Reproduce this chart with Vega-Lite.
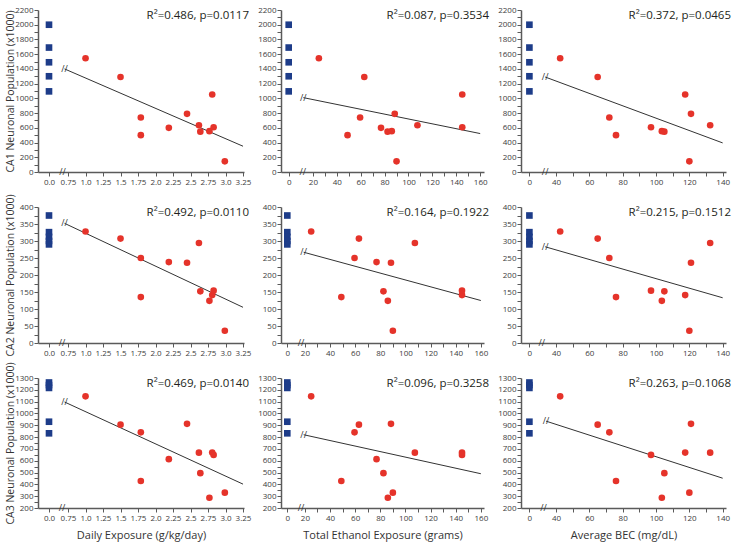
{
"$schema": "https://vega.github.io/schema/vega-lite/v6.json",
"background": "white",
"padding": {"left": 4, "top": 6, "right": 5, "bottom": 2},
"config": {
 "font": "Open Sans",
 "view": {"stroke": null},
 "axis": {"grid": false, "domainColor": "#5a5a5a", "domainWidth": 1.5, "tickColor": "#5a5a5a", "tickWidth": 1, "tickSize": 4, "labelFont": "Open Sans", "labelFontSize": 8, "labelColor": "#3c3c3c", "labelPadding": 1, "labelOverlap": false, "labelFlush": false, "titleFont": "Open Sans", "titleFontSize": 10.5, "titleFontWeight": "normal", "titleColor": "#333333", "titlePadding": 1},
 "axisX": {"labelPadding": 2, "titlePadding": 7, "titleFontSize": 11},
 "axisY": {"minExtent": 22, "maxExtent": 22}
},
"datasets": {
 "animals": [
  {"id": "A", "daily": 1.0, "total": 25, "bec": 42.5, "CA1": 1545, "CA2": 328, "CA3": 1145},
  {"id": "B", "daily": 1.5, "total": 63, "bec": 65, "CA1": 1290, "CA2": 307, "CA3": 905},
  {"id": "C", "daily": 1.79, "total": 59.5, "bec": 72, "CA1": 740, "CA2": 250, "CA3": 840},
  {"id": "D", "daily": 1.79, "total": 49, "bec": 76, "CA1": 500, "CA2": 135, "CA3": 428},
  {"id": "E", "daily": 2.19, "total": 77, "bec": null, "CA1": 600, "CA2": 238, "CA3": 613},
  {"id": "F", "daily": 2.45, "total": 88.5, "bec": 121, "CA1": 790, "CA2": 236, "CA3": 912},
  {"id": "G", "daily": 2.62, "total": 107.5, "bec": 132.5, "CA1": 635, "CA2": 294, "CA3": 668},
  {"id": "H", "daily": 2.64, "total": 82.5, "bec": 105, "CA1": 548, "CA2": 152, "CA3": 495},
  {"id": "I", "daily": 2.77, "total": 86, "bec": 103.5, "CA1": 555, "CA2": 124, "CA3": 287},
  {"id": "J", "daily": 2.81, "total": 145, "bec": 117.5, "CA1": 1052, "CA2": 141, "CA3": 669},
  {"id": "K", "daily": 2.83, "total": 145, "bec": 97, "CA1": 608, "CA2": 154, "CA3": 649},
  {"id": "L", "daily": 2.99, "total": 90, "bec": 120, "CA1": 145, "CA2": 36, "CA3": 330}
 ],
 "controls": [
  {"x": 0, "CA1": 2000, "CA2": 375, "CA3": 1262},
  {"x": 0, "CA1": 1690, "CA2": 326, "CA3": 1240},
  {"x": 0, "CA1": 1490, "CA2": 312, "CA3": 1216},
  {"x": 0, "CA1": 1300, "CA2": 300, "CA3": 930},
  {"x": 0, "CA1": 1095, "CA2": 290, "CA3": 832}
 ],
 "fits": [
  {"panel": "CA1|daily", "x": 0.70, "y": 1400}, {"panel": "CA1|daily", "x": 3.25, "y": 350},
  {"panel": "CA1|total", "x": 12, "y": 1010}, {"panel": "CA1|total", "x": 160, "y": 522},
  {"panel": "CA1|bec", "x": 33.5, "y": 1290}, {"panel": "CA1|bec", "x": 140, "y": 395},
  {"panel": "CA2|daily", "x": 0.70, "y": 352}, {"panel": "CA2|daily", "x": 3.25, "y": 105},
  {"panel": "CA2|total", "x": 19, "y": 267}, {"panel": "CA2|total", "x": 160, "y": 125},
  {"panel": "CA2|bec", "x": 33.5, "y": 283}, {"panel": "CA2|bec", "x": 140, "y": 133},
  {"panel": "CA3|daily", "x": 0.70, "y": 1097}, {"panel": "CA3|daily", "x": 3.25, "y": 402},
  {"panel": "CA3|total", "x": 19, "y": 820}, {"panel": "CA3|total", "x": 160, "y": 490},
  {"panel": "CA3|bec", "x": 34, "y": 935}, {"panel": "CA3|bec", "x": 140, "y": 452}
 ],
 "breaks": [
  {"panel": "CA1|daily", "x": 0.67, "y": 0}, {"panel": "CA1|daily", "x": 0.70, "y": 1400},
  {"panel": "CA1|total", "x": 11.5, "y": 0}, {"panel": "CA1|total", "x": 12, "y": 1010},
  {"panel": "CA1|bec", "x": 33.5, "y": 0}, {"panel": "CA1|bec", "x": 33.5, "y": 1290},
  {"panel": "CA2|daily", "x": 0.665, "y": 0}, {"panel": "CA2|daily", "x": 0.70, "y": 352},
  {"panel": "CA2|total", "x": 17, "y": 0}, {"panel": "CA2|total", "x": 19, "y": 267},
  {"panel": "CA2|bec", "x": 31.5, "y": 0}, {"panel": "CA2|bec", "x": 33.5, "y": 283},
  {"panel": "CA3|daily", "x": 0.665, "y": 200}, {"panel": "CA3|daily", "x": 0.70, "y": 1097},
  {"panel": "CA3|total", "x": 17, "y": 200}, {"panel": "CA3|total", "x": 19, "y": 820},
  {"panel": "CA3|bec", "x": 32.5, "y": 200}, {"panel": "CA3|bec", "x": 34, "y": 935}
 ],
 "stats": [
  {"panel": "CA1|daily", "label": "R²=0.486, p=0.0117"},
  {"panel": "CA1|total", "label": "R²=0.087, p=0.3534"},
  {"panel": "CA1|bec", "label": "R²=0.372, p=0.0465"},
  {"panel": "CA2|daily", "label": "R²=0.492, p=0.0110"},
  {"panel": "CA2|total", "label": "R²=0.164, p=0.1922"},
  {"panel": "CA2|bec", "label": "R²=0.215, p=0.1512"},
  {"panel": "CA3|daily", "label": "R²=0.469, p=0.0140"},
  {"panel": "CA3|total", "label": "R²=0.096, p=0.3258"},
  {"panel": "CA3|bec", "label": "R²=0.263, p=0.1068"}
 ]
},
"columns": 3,
"align": "each",
"bounds": "flush",
"spacing": {"row": 35, "column": 37},
"concat": [
  {"width": 206, "height": 162, "resolve": {"scale": {"x": "independent"}, "axis": {"x": "independent"}},
   "layer": [
    {"data": {"name": "controls"}, "mark": {"type": "square", "size": 44, "color": "#1d3c89", "opacity": 1},
     "encoding": {
      "x": {"field": "x", "type": "quantitative", "scale": {"domain": [-0.0534, 0.9466], "nice": false, "zero": false}, "axis": {"orient": "bottom", "values": [0], "tickCount": 100, "format": ".1f", "domain": false, "title": null}},
      "y": {"field": "CA1", "type": "quantitative", "scale": {"domain": [0, 2200], "nice": false, "zero": false}, "axis": {"values": [0,100,200,300,400,500,600,700,800,900,1000,1100,1200,1300,1400,1500,1600,1700,1800,1900,2000,2100,2200], "tickCount": 100, "labelOverlap": false, "format": "d", "labelExpr": "datum.value % 200 == 0 ? datum.label : ''", "title": "CA1 Neuronal Population (x1000)"}}}},
    {"layer": [
     {"data": {"name": "fits"}, "transform": [{"filter": "datum.panel == 'CA1|daily'"}], "mark": {"type": "line", "color": "#333333", "strokeWidth": 1},
      "encoding": {
       "x": {"field": "x", "type": "quantitative", "scale": {"domain": [0.321, 3.264], "nice": false, "zero": false}, "axis": {"orient": "bottom", "values": [0.75,1,1.25,1.5,1.75,2,2.25,2.5,2.75,3,3.25], "tickCount": 100, "labelOverlap": false, "labelExpr": "datum.value % 0.5 == 0 ? format(datum.value, '.1f') : format(datum.value, '.2f')", "title": null}},
       "y": {"field": "y", "type": "quantitative", "scale": {"domain": [0, 2200], "nice": false, "zero": false}}}},
     {"data": {"name": "animals"}, "mark": {"type": "circle", "size": 44, "color": "#e5332a", "opacity": 1},
      "encoding": {
       "x": {"field": "daily", "type": "quantitative", "scale": {"domain": [0.321, 3.264], "nice": false, "zero": false}},
       "y": {"field": "CA1", "type": "quantitative", "scale": {"domain": [0, 2200], "nice": false, "zero": false}}}},
     {"data": {"name": "stats"}, "transform": [{"filter": "datum.panel == 'CA1|daily'"}], "mark": {"type": "text", "align": "right", "baseline": "top", "fontSize": 11.5, "dx": 5, "color": "#231f20"},
      "encoding": {
       "x": {"datum": 3.264, "type": "quantitative", "scale": {"domain": [0.321, 3.264], "nice": false, "zero": false}},
       "y": {"datum": 2200, "type": "quantitative", "scale": {"domain": [0, 2200], "nice": false, "zero": false}},
       "text": {"field": "label"}}},
     {"data": {"name": "breaks"}, "transform": [{"filter": "datum.panel == 'CA1|daily'"}], "mark": {"type": "text", "text": "//", "fontSize": 9, "color": "#333333"},
      "encoding": {
       "x": {"field": "x", "type": "quantitative", "scale": {"domain": [0.321, 3.264], "nice": false, "zero": false}},
       "y": {"field": "y", "type": "quantitative", "scale": {"domain": [0, 2200], "nice": false, "zero": false}}}}
    ]}
   ]},
  {"width": 203, "height": 162, "resolve": {"scale": {"x": "independent"}, "axis": {"x": "independent"}},
   "layer": [
    {"data": {"name": "controls"}, "mark": {"type": "square", "size": 44, "color": "#1d3c89", "opacity": 1},
     "encoding": {
      "x": {"field": "x", "type": "quantitative", "scale": {"domain": [-0.038, 0.962], "nice": false, "zero": false}, "axis": {"orient": "bottom", "values": [0], "tickCount": 100, "format": "d", "domain": false, "title": null}},
      "y": {"field": "CA1", "type": "quantitative", "scale": {"domain": [0, 2200], "nice": false, "zero": false}, "axis": {"values": [0,100,200,300,400,500,600,700,800,900,1000,1100,1200,1300,1400,1500,1600,1700,1800,1900,2000,2100,2200], "tickCount": 100, "labelOverlap": false, "format": "d", "labelExpr": "datum.value % 200 == 0 ? datum.label : ''", "title": null}}}},
    {"layer": [
     {"data": {"name": "fits"}, "transform": [{"filter": "datum.panel == 'CA1|total'"}], "mark": {"type": "line", "color": "#333333", "strokeWidth": 1},
      "encoding": {
       "x": {"field": "x", "type": "quantitative", "scale": {"domain": [-6.7, 163.2], "nice": false, "zero": false}, "axis": {"orient": "bottom", "values": [20,30,40,50,60,70,80,90,100,110,120,130,140,150,160], "tickCount": 100, "labelOverlap": false, "format": "d", "labelExpr": "datum.value % 20 == 0 ? datum.label : ''", "title": null}},
       "y": {"field": "y", "type": "quantitative", "scale": {"domain": [0, 2200], "nice": false, "zero": false}}}},
     {"data": {"name": "animals"}, "mark": {"type": "circle", "size": 44, "color": "#e5332a", "opacity": 1},
      "encoding": {
       "x": {"field": "total", "type": "quantitative", "scale": {"domain": [-6.7, 163.2], "nice": false, "zero": false}},
       "y": {"field": "CA1", "type": "quantitative", "scale": {"domain": [0, 2200], "nice": false, "zero": false}}}},
     {"data": {"name": "stats"}, "transform": [{"filter": "datum.panel == 'CA1|total'"}], "mark": {"type": "text", "align": "right", "baseline": "top", "fontSize": 11.5, "dx": 5, "color": "#231f20"},
      "encoding": {
       "x": {"datum": 163.2, "type": "quantitative", "scale": {"domain": [-6.7, 163.2], "nice": false, "zero": false}},
       "y": {"datum": 2200, "type": "quantitative", "scale": {"domain": [0, 2200], "nice": false, "zero": false}},
       "text": {"field": "label"}}},
     {"data": {"name": "breaks"}, "transform": [{"filter": "datum.panel == 'CA1|total'"}], "mark": {"type": "text", "text": "//", "fontSize": 9, "color": "#333333"},
      "encoding": {
       "x": {"field": "x", "type": "quantitative", "scale": {"domain": [-6.7, 163.2], "nice": false, "zero": false}},
       "y": {"field": "y", "type": "quantitative", "scale": {"domain": [0, 2200], "nice": false, "zero": false}}}}
    ]}
   ]},
  {"width": 205, "height": 162, "resolve": {"scale": {"x": "independent"}, "axis": {"x": "independent"}},
   "layer": [
    {"data": {"name": "controls"}, "mark": {"type": "square", "size": 44, "color": "#1d3c89", "opacity": 1},
     "encoding": {
      "x": {"field": "x", "type": "quantitative", "scale": {"domain": [-0.041, 0.959], "nice": false, "zero": false}, "axis": {"orient": "bottom", "values": [0], "tickCount": 100, "format": "d", "domain": false, "title": null}},
      "y": {"field": "CA1", "type": "quantitative", "scale": {"domain": [0, 2200], "nice": false, "zero": false}, "axis": {"values": [0,100,200,300,400,500,600,700,800,900,1000,1100,1200,1300,1400,1500,1600,1700,1800,1900,2000,2100,2200], "tickCount": 100, "labelOverlap": false, "format": "d", "labelExpr": "datum.value % 200 == 0 ? datum.label : ''", "title": null}}}},
    {"layer": [
     {"data": {"name": "fits"}, "transform": [{"filter": "datum.panel == 'CA1|bec'"}], "mark": {"type": "line", "color": "#333333", "strokeWidth": 1},
      "encoding": {
       "x": {"field": "x", "type": "quantitative", "scale": {"domain": [19, 142], "nice": false, "zero": false}, "axis": {"orient": "bottom", "values": [40,50,60,70,80,90,100,110,120,130,140], "tickCount": 100, "labelOverlap": false, "format": "d", "labelExpr": "datum.value % 20 == 0 ? datum.label : ''", "title": null}},
       "y": {"field": "y", "type": "quantitative", "scale": {"domain": [0, 2200], "nice": false, "zero": false}}}},
     {"data": {"name": "animals"}, "mark": {"type": "circle", "size": 44, "color": "#e5332a", "opacity": 1},
      "encoding": {
       "x": {"field": "bec", "type": "quantitative", "scale": {"domain": [19, 142], "nice": false, "zero": false}},
       "y": {"field": "CA1", "type": "quantitative", "scale": {"domain": [0, 2200], "nice": false, "zero": false}}}},
     {"data": {"name": "stats"}, "transform": [{"filter": "datum.panel == 'CA1|bec'"}], "mark": {"type": "text", "align": "right", "baseline": "top", "fontSize": 11.5, "dx": 5, "color": "#231f20"},
      "encoding": {
       "x": {"datum": 142, "type": "quantitative", "scale": {"domain": [19, 142], "nice": false, "zero": false}},
       "y": {"datum": 2200, "type": "quantitative", "scale": {"domain": [0, 2200], "nice": false, "zero": false}},
       "text": {"field": "label"}}},
     {"data": {"name": "breaks"}, "transform": [{"filter": "datum.panel == 'CA1|bec'"}], "mark": {"type": "text", "text": "//", "fontSize": 9, "color": "#333333"},
      "encoding": {
       "x": {"field": "x", "type": "quantitative", "scale": {"domain": [19, 142], "nice": false, "zero": false}},
       "y": {"field": "y", "type": "quantitative", "scale": {"domain": [0, 2200], "nice": false, "zero": false}}}}
    ]}
   ]},
  {"width": 206, "height": 136, "resolve": {"scale": {"x": "independent"}, "axis": {"x": "independent"}},
   "layer": [
    {"data": {"name": "controls"}, "mark": {"type": "square", "size": 44, "color": "#1d3c89", "opacity": 1},
     "encoding": {
      "x": {"field": "x", "type": "quantitative", "scale": {"domain": [-0.0534, 0.9466], "nice": false, "zero": false}, "axis": {"orient": "bottom", "values": [0], "tickCount": 100, "format": ".1f", "domain": false, "title": null}},
      "y": {"field": "CA2", "type": "quantitative", "scale": {"domain": [0, 400], "nice": false, "zero": false}, "axis": {"values": [0,25,50,75,100,125,150,175,200,225,250,275,300,325,350,375,400], "tickCount": 100, "labelOverlap": false, "format": "d", "labelExpr": "datum.value % 50 == 0 ? datum.label : ''", "title": "CA2 Neuronal Population (x1000)"}}}},
    {"layer": [
     {"data": {"name": "fits"}, "transform": [{"filter": "datum.panel == 'CA2|daily'"}], "mark": {"type": "line", "color": "#333333", "strokeWidth": 1},
      "encoding": {
       "x": {"field": "x", "type": "quantitative", "scale": {"domain": [0.321, 3.264], "nice": false, "zero": false}, "axis": {"orient": "bottom", "values": [0.75,1,1.25,1.5,1.75,2,2.25,2.5,2.75,3,3.25], "tickCount": 100, "labelOverlap": false, "labelExpr": "datum.value % 0.5 == 0 ? format(datum.value, '.1f') : format(datum.value, '.2f')", "title": null}},
       "y": {"field": "y", "type": "quantitative", "scale": {"domain": [0, 400], "nice": false, "zero": false}}}},
     {"data": {"name": "animals"}, "mark": {"type": "circle", "size": 44, "color": "#e5332a", "opacity": 1},
      "encoding": {
       "x": {"field": "daily", "type": "quantitative", "scale": {"domain": [0.321, 3.264], "nice": false, "zero": false}},
       "y": {"field": "CA2", "type": "quantitative", "scale": {"domain": [0, 400], "nice": false, "zero": false}}}},
     {"data": {"name": "stats"}, "transform": [{"filter": "datum.panel == 'CA2|daily'"}], "mark": {"type": "text", "align": "right", "baseline": "top", "fontSize": 11.5, "dx": 5, "color": "#231f20"},
      "encoding": {
       "x": {"datum": 3.264, "type": "quantitative", "scale": {"domain": [0.321, 3.264], "nice": false, "zero": false}},
       "y": {"datum": 400, "type": "quantitative", "scale": {"domain": [0, 400], "nice": false, "zero": false}},
       "text": {"field": "label"}}},
     {"data": {"name": "breaks"}, "transform": [{"filter": "datum.panel == 'CA2|daily'"}], "mark": {"type": "text", "text": "//", "fontSize": 9, "color": "#333333"},
      "encoding": {
       "x": {"field": "x", "type": "quantitative", "scale": {"domain": [0.321, 3.264], "nice": false, "zero": false}},
       "y": {"field": "y", "type": "quantitative", "scale": {"domain": [0, 400], "nice": false, "zero": false}}}}
    ]}
   ]},
  {"width": 203, "height": 136, "resolve": {"scale": {"x": "independent"}, "axis": {"x": "independent"}},
   "layer": [
    {"data": {"name": "controls"}, "mark": {"type": "square", "size": 44, "color": "#1d3c89", "opacity": 1},
     "encoding": {
      "x": {"field": "x", "type": "quantitative", "scale": {"domain": [-0.031, 0.969], "nice": false, "zero": false}, "axis": {"orient": "bottom", "values": [0], "tickCount": 100, "format": "d", "domain": false, "title": null}},
      "y": {"field": "CA2", "type": "quantitative", "scale": {"domain": [0, 400], "nice": false, "zero": false}, "axis": {"values": [0,25,50,75,100,125,150,175,200,225,250,275,300,325,350,375,400], "tickCount": 100, "labelOverlap": false, "format": "d", "labelExpr": "datum.value % 50 == 0 ? datum.label : ''", "title": null}}}},
    {"layer": [
     {"data": {"name": "fits"}, "transform": [{"filter": "datum.panel == 'CA2|total'"}], "mark": {"type": "line", "color": "#333333", "strokeWidth": 1},
      "encoding": {
       "x": {"field": "x", "type": "quantitative", "scale": {"domain": [1, 162.5], "nice": false, "zero": false}, "axis": {"orient": "bottom", "values": [20,30,40,50,60,70,80,90,100,110,120,130,140,150,160], "tickCount": 100, "labelOverlap": false, "format": "d", "labelExpr": "datum.value % 20 == 0 ? datum.label : ''", "title": null}},
       "y": {"field": "y", "type": "quantitative", "scale": {"domain": [0, 400], "nice": false, "zero": false}}}},
     {"data": {"name": "animals"}, "mark": {"type": "circle", "size": 44, "color": "#e5332a", "opacity": 1},
      "encoding": {
       "x": {"field": "total", "type": "quantitative", "scale": {"domain": [1, 162.5], "nice": false, "zero": false}},
       "y": {"field": "CA2", "type": "quantitative", "scale": {"domain": [0, 400], "nice": false, "zero": false}}}},
     {"data": {"name": "stats"}, "transform": [{"filter": "datum.panel == 'CA2|total'"}], "mark": {"type": "text", "align": "right", "baseline": "top", "fontSize": 11.5, "dx": 5, "color": "#231f20"},
      "encoding": {
       "x": {"datum": 162.5, "type": "quantitative", "scale": {"domain": [1, 162.5], "nice": false, "zero": false}},
       "y": {"datum": 400, "type": "quantitative", "scale": {"domain": [0, 400], "nice": false, "zero": false}},
       "text": {"field": "label"}}},
     {"data": {"name": "breaks"}, "transform": [{"filter": "datum.panel == 'CA2|total'"}], "mark": {"type": "text", "text": "//", "fontSize": 9, "color": "#333333"},
      "encoding": {
       "x": {"field": "x", "type": "quantitative", "scale": {"domain": [1, 162.5], "nice": false, "zero": false}},
       "y": {"field": "y", "type": "quantitative", "scale": {"domain": [0, 400], "nice": false, "zero": false}}}}
    ]}
   ]},
  {"width": 205, "height": 136, "resolve": {"scale": {"x": "independent"}, "axis": {"x": "independent"}},
   "layer": [
    {"data": {"name": "controls"}, "mark": {"type": "square", "size": 44, "color": "#1d3c89", "opacity": 1},
     "encoding": {
      "x": {"field": "x", "type": "quantitative", "scale": {"domain": [-0.041, 0.959], "nice": false, "zero": false}, "axis": {"orient": "bottom", "values": [0], "tickCount": 100, "format": "d", "domain": false, "title": null}},
      "y": {"field": "CA2", "type": "quantitative", "scale": {"domain": [0, 400], "nice": false, "zero": false}, "axis": {"values": [0,25,50,75,100,125,150,175,200,225,250,275,300,325,350,375,400], "tickCount": 100, "labelOverlap": false, "format": "d", "labelExpr": "datum.value % 50 == 0 ? datum.label : ''", "title": null}}}},
    {"layer": [
     {"data": {"name": "fits"}, "transform": [{"filter": "datum.panel == 'CA2|bec'"}], "mark": {"type": "line", "color": "#333333", "strokeWidth": 1},
      "encoding": {
       "x": {"field": "x", "type": "quantitative", "scale": {"domain": [19, 142], "nice": false, "zero": false}, "axis": {"orient": "bottom", "values": [40,50,60,70,80,90,100,110,120,130,140], "tickCount": 100, "labelOverlap": false, "format": "d", "labelExpr": "datum.value % 20 == 0 ? datum.label : ''", "title": null}},
       "y": {"field": "y", "type": "quantitative", "scale": {"domain": [0, 400], "nice": false, "zero": false}}}},
     {"data": {"name": "animals"}, "mark": {"type": "circle", "size": 44, "color": "#e5332a", "opacity": 1},
      "encoding": {
       "x": {"field": "bec", "type": "quantitative", "scale": {"domain": [19, 142], "nice": false, "zero": false}},
       "y": {"field": "CA2", "type": "quantitative", "scale": {"domain": [0, 400], "nice": false, "zero": false}}}},
     {"data": {"name": "stats"}, "transform": [{"filter": "datum.panel == 'CA2|bec'"}], "mark": {"type": "text", "align": "right", "baseline": "top", "fontSize": 11.5, "dx": 5, "color": "#231f20"},
      "encoding": {
       "x": {"datum": 142, "type": "quantitative", "scale": {"domain": [19, 142], "nice": false, "zero": false}},
       "y": {"datum": 400, "type": "quantitative", "scale": {"domain": [0, 400], "nice": false, "zero": false}},
       "text": {"field": "label"}}},
     {"data": {"name": "breaks"}, "transform": [{"filter": "datum.panel == 'CA2|bec'"}], "mark": {"type": "text", "text": "//", "fontSize": 9, "color": "#333333"},
      "encoding": {
       "x": {"field": "x", "type": "quantitative", "scale": {"domain": [19, 142], "nice": false, "zero": false}},
       "y": {"field": "y", "type": "quantitative", "scale": {"domain": [0, 400], "nice": false, "zero": false}}}}
    ]}
   ]},
  {"width": 206, "height": 130, "resolve": {"scale": {"x": "independent"}, "axis": {"x": "independent"}},
   "layer": [
    {"data": {"name": "controls"}, "mark": {"type": "square", "size": 44, "color": "#1d3c89", "opacity": 1},
     "encoding": {
      "x": {"field": "x", "type": "quantitative", "scale": {"domain": [-0.0534, 0.9466], "nice": false, "zero": false}, "axis": {"orient": "bottom", "values": [0], "tickCount": 100, "format": ".1f", "domain": false, "title": null}},
      "y": {"field": "CA3", "type": "quantitative", "scale": {"domain": [200, 1300], "nice": false, "zero": false}, "axis": {"values": [200,250,300,350,400,450,500,550,600,650,700,750,800,850,900,950,1000,1050,1100,1150,1200,1250,1300], "tickCount": 100, "labelOverlap": false, "format": "d", "labelExpr": "datum.value % 100 == 0 ? datum.label : ''", "title": "CA3 Neuronal Population (x1000)"}}}},
    {"layer": [
     {"data": {"name": "fits"}, "transform": [{"filter": "datum.panel == 'CA3|daily'"}], "mark": {"type": "line", "color": "#333333", "strokeWidth": 1},
      "encoding": {
       "x": {"field": "x", "type": "quantitative", "scale": {"domain": [0.321, 3.264], "nice": false, "zero": false}, "axis": {"orient": "bottom", "values": [0.75,1,1.25,1.5,1.75,2,2.25,2.5,2.75,3,3.25], "tickCount": 100, "labelOverlap": false, "labelExpr": "datum.value % 0.5 == 0 ? format(datum.value, '.1f') : format(datum.value, '.2f')", "title": "Daily Exposure (g/kg/day)"}},
       "y": {"field": "y", "type": "quantitative", "scale": {"domain": [200, 1300], "nice": false, "zero": false}}}},
     {"data": {"name": "animals"}, "mark": {"type": "circle", "size": 44, "color": "#e5332a", "opacity": 1},
      "encoding": {
       "x": {"field": "daily", "type": "quantitative", "scale": {"domain": [0.321, 3.264], "nice": false, "zero": false}},
       "y": {"field": "CA3", "type": "quantitative", "scale": {"domain": [200, 1300], "nice": false, "zero": false}}}},
     {"data": {"name": "stats"}, "transform": [{"filter": "datum.panel == 'CA3|daily'"}], "mark": {"type": "text", "align": "right", "baseline": "top", "fontSize": 11.5, "dx": 5, "color": "#231f20"},
      "encoding": {
       "x": {"datum": 3.264, "type": "quantitative", "scale": {"domain": [0.321, 3.264], "nice": false, "zero": false}},
       "y": {"datum": 1300, "type": "quantitative", "scale": {"domain": [200, 1300], "nice": false, "zero": false}},
       "text": {"field": "label"}}},
     {"data": {"name": "breaks"}, "transform": [{"filter": "datum.panel == 'CA3|daily'"}], "mark": {"type": "text", "text": "//", "fontSize": 9, "color": "#333333"},
      "encoding": {
       "x": {"field": "x", "type": "quantitative", "scale": {"domain": [0.321, 3.264], "nice": false, "zero": false}},
       "y": {"field": "y", "type": "quantitative", "scale": {"domain": [200, 1300], "nice": false, "zero": false}}}}
    ]}
   ]},
  {"width": 203, "height": 130, "resolve": {"scale": {"x": "independent"}, "axis": {"x": "independent"}},
   "layer": [
    {"data": {"name": "controls"}, "mark": {"type": "square", "size": 44, "color": "#1d3c89", "opacity": 1},
     "encoding": {
      "x": {"field": "x", "type": "quantitative", "scale": {"domain": [-0.031, 0.969], "nice": false, "zero": false}, "axis": {"orient": "bottom", "values": [0], "tickCount": 100, "format": "d", "domain": false, "title": null}},
      "y": {"field": "CA3", "type": "quantitative", "scale": {"domain": [200, 1300], "nice": false, "zero": false}, "axis": {"values": [200,250,300,350,400,450,500,550,600,650,700,750,800,850,900,950,1000,1050,1100,1150,1200,1250,1300], "tickCount": 100, "labelOverlap": false, "format": "d", "labelExpr": "datum.value % 100 == 0 ? datum.label : ''", "title": null}}}},
    {"layer": [
     {"data": {"name": "fits"}, "transform": [{"filter": "datum.panel == 'CA3|total'"}], "mark": {"type": "line", "color": "#333333", "strokeWidth": 1},
      "encoding": {
       "x": {"field": "x", "type": "quantitative", "scale": {"domain": [1, 162.5], "nice": false, "zero": false}, "axis": {"orient": "bottom", "values": [20,30,40,50,60,70,80,90,100,110,120,130,140,150,160], "tickCount": 100, "labelOverlap": false, "format": "d", "labelExpr": "datum.value % 20 == 0 ? datum.label : ''", "title": "Total Ethanol Exposure (grams)"}},
       "y": {"field": "y", "type": "quantitative", "scale": {"domain": [200, 1300], "nice": false, "zero": false}}}},
     {"data": {"name": "animals"}, "mark": {"type": "circle", "size": 44, "color": "#e5332a", "opacity": 1},
      "encoding": {
       "x": {"field": "total", "type": "quantitative", "scale": {"domain": [1, 162.5], "nice": false, "zero": false}},
       "y": {"field": "CA3", "type": "quantitative", "scale": {"domain": [200, 1300], "nice": false, "zero": false}}}},
     {"data": {"name": "stats"}, "transform": [{"filter": "datum.panel == 'CA3|total'"}], "mark": {"type": "text", "align": "right", "baseline": "top", "fontSize": 11.5, "dx": 5, "color": "#231f20"},
      "encoding": {
       "x": {"datum": 162.5, "type": "quantitative", "scale": {"domain": [1, 162.5], "nice": false, "zero": false}},
       "y": {"datum": 1300, "type": "quantitative", "scale": {"domain": [200, 1300], "nice": false, "zero": false}},
       "text": {"field": "label"}}},
     {"data": {"name": "breaks"}, "transform": [{"filter": "datum.panel == 'CA3|total'"}], "mark": {"type": "text", "text": "//", "fontSize": 9, "color": "#333333"},
      "encoding": {
       "x": {"field": "x", "type": "quantitative", "scale": {"domain": [1, 162.5], "nice": false, "zero": false}},
       "y": {"field": "y", "type": "quantitative", "scale": {"domain": [200, 1300], "nice": false, "zero": false}}}}
    ]}
   ]},
  {"width": 205, "height": 130, "resolve": {"scale": {"x": "independent"}, "axis": {"x": "independent"}},
   "layer": [
    {"data": {"name": "controls"}, "mark": {"type": "square", "size": 44, "color": "#1d3c89", "opacity": 1},
     "encoding": {
      "x": {"field": "x", "type": "quantitative", "scale": {"domain": [-0.041, 0.959], "nice": false, "zero": false}, "axis": {"orient": "bottom", "values": [0], "tickCount": 100, "format": "d", "domain": false, "title": null}},
      "y": {"field": "CA3", "type": "quantitative", "scale": {"domain": [200, 1300], "nice": false, "zero": false}, "axis": {"values": [200,250,300,350,400,450,500,550,600,650,700,750,800,850,900,950,1000,1050,1100,1150,1200,1250,1300], "tickCount": 100, "labelOverlap": false, "format": "d", "labelExpr": "datum.value % 100 == 0 ? datum.label : ''", "title": null}}}},
    {"layer": [
     {"data": {"name": "fits"}, "transform": [{"filter": "datum.panel == 'CA3|bec'"}], "mark": {"type": "line", "color": "#333333", "strokeWidth": 1},
      "encoding": {
       "x": {"field": "x", "type": "quantitative", "scale": {"domain": [19, 142], "nice": false, "zero": false}, "axis": {"orient": "bottom", "values": [40,50,60,70,80,90,100,110,120,130,140], "tickCount": 100, "labelOverlap": false, "format": "d", "labelExpr": "datum.value % 20 == 0 ? datum.label : ''", "title": "Average BEC (mg/dL)"}},
       "y": {"field": "y", "type": "quantitative", "scale": {"domain": [200, 1300], "nice": false, "zero": false}}}},
     {"data": {"name": "animals"}, "mark": {"type": "circle", "size": 44, "color": "#e5332a", "opacity": 1},
      "encoding": {
       "x": {"field": "bec", "type": "quantitative", "scale": {"domain": [19, 142], "nice": false, "zero": false}},
       "y": {"field": "CA3", "type": "quantitative", "scale": {"domain": [200, 1300], "nice": false, "zero": false}}}},
     {"data": {"name": "stats"}, "transform": [{"filter": "datum.panel == 'CA3|bec'"}], "mark": {"type": "text", "align": "right", "baseline": "top", "fontSize": 11.5, "dx": 5, "color": "#231f20"},
      "encoding": {
       "x": {"datum": 142, "type": "quantitative", "scale": {"domain": [19, 142], "nice": false, "zero": false}},
       "y": {"datum": 1300, "type": "quantitative", "scale": {"domain": [200, 1300], "nice": false, "zero": false}},
       "text": {"field": "label"}}},
     {"data": {"name": "breaks"}, "transform": [{"filter": "datum.panel == 'CA3|bec'"}], "mark": {"type": "text", "text": "//", "fontSize": 9, "color": "#333333"},
      "encoding": {
       "x": {"field": "x", "type": "quantitative", "scale": {"domain": [19, 142], "nice": false, "zero": false}},
       "y": {"field": "y", "type": "quantitative", "scale": {"domain": [200, 1300], "nice": false, "zero": false}}}}
    ]}
   ]}
]
}
